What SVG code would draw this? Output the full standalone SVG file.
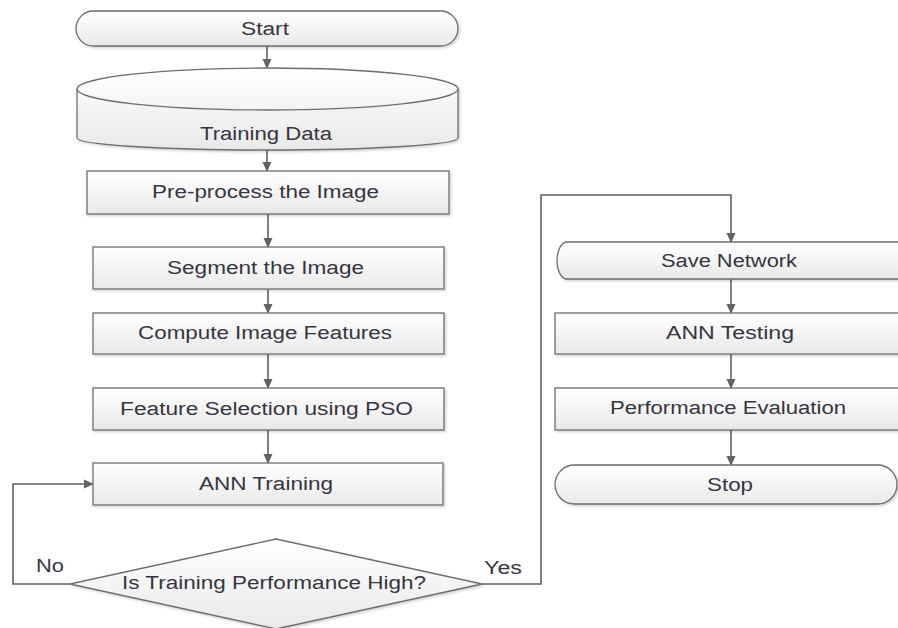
<svg xmlns="http://www.w3.org/2000/svg" width="898" height="628" viewBox="0 0 898 628">
<defs>
<linearGradient id="g" x1="0" y1="0" x2="0" y2="1">
<stop offset="0" stop-color="#ffffff"/>
<stop offset="1" stop-color="#e9e9e9"/>
</linearGradient>
<filter id="sh" x="-5%" y="-10%" width="110%" height="130%">
<feDropShadow dx="1.5" dy="1.5" stdDeviation="1" flood-color="#000" flood-opacity="0.18"/>
</filter>
<marker id="ar" markerWidth="10" markerHeight="10" refX="9" refY="5" orient="auto" markerUnits="userSpaceOnUse">
<path d="M0,0.5 L10,5 L0,9.5 Z" fill="#626262"/>
</marker>
</defs>
<style>
.s{fill:url(#g);stroke:#6e6e6e;stroke-width:1.3;filter:url(#sh)}
.t{font-family:"Liberation Sans",Arial,sans-serif;font-size:18px;fill:#363640;text-anchor:middle}
.c{fill:none;stroke:#626262;stroke-width:1.6}
</style>
<rect width="898" height="628" fill="#ffffff"/>
<g id="connectors">
<line class="c" x1="267" y1="46" x2="267" y2="68" marker-end="url(#ar)"/>
<line class="c" x1="267" y1="150" x2="267" y2="171" marker-end="url(#ar)"/>
<line class="c" x1="268" y1="214" x2="268" y2="247" marker-end="url(#ar)"/>
<line class="c" x1="268" y1="289" x2="268" y2="313" marker-end="url(#ar)"/>
<line class="c" x1="268" y1="354" x2="268" y2="388" marker-end="url(#ar)"/>
<line class="c" x1="268" y1="430" x2="268" y2="463" marker-end="url(#ar)"/>
<polyline class="c" points="70,584 13,584 13,484 93,484" marker-end="url(#ar)"/>
<polyline class="c" points="482,584 541,584 541,195 731,195 731,242" marker-end="url(#ar)"/>
<line class="c" x1="731" y1="279" x2="731" y2="313" marker-end="url(#ar)"/>
<line class="c" x1="731" y1="354" x2="731" y2="388" marker-end="url(#ar)"/>
<line class="c" x1="731" y1="430" x2="731" y2="465" marker-end="url(#ar)"/>
<text class="t" x="50" y="572" textLength="28" lengthAdjust="spacingAndGlyphs">No</text>
<text class="t" x="503" y="574" textLength="38" lengthAdjust="spacingAndGlyphs">Yes</text>
</g>
<g id="start">
<rect class="s" x="76" y="11" width="382" height="35" rx="17.5"/>
<text class="t" x="265" y="35" textLength="48" lengthAdjust="spacingAndGlyphs">Start</text>
</g>
<g id="training-data">
<path class="s" d="M77,89 A190.5,21 0 0 1 458,89 L458,138 A190.5,12 0 0 1 77,138 Z"/>
<path d="M77,89 A190.5,21 0 0 0 458,89" fill="none" stroke="#6e6e6e" stroke-width="1.3"/>
<text class="t" x="266" y="140" textLength="132" lengthAdjust="spacingAndGlyphs">Training Data</text>
</g>
<g id="preprocess">
<rect class="s" x="87" y="171" width="362" height="43"/>
<text class="t" x="265.5" y="198" textLength="227" lengthAdjust="spacingAndGlyphs">Pre-process the Image</text>
</g>
<g id="segment">
<rect class="s" x="93" y="247" width="351" height="42"/>
<text class="t" x="265.5" y="274" textLength="197" lengthAdjust="spacingAndGlyphs">Segment the Image</text>
</g>
<g id="compute">
<rect class="s" x="93" y="313" width="351" height="41"/>
<text class="t" x="265" y="339" textLength="254" lengthAdjust="spacingAndGlyphs">Compute Image Features</text>
</g>
<g id="feature-selection">
<rect class="s" x="93" y="388" width="351" height="42"/>
<text class="t" x="266.5" y="415" textLength="293" lengthAdjust="spacingAndGlyphs">Feature Selection using PSO</text>
</g>
<g id="ann-training">
<rect class="s" x="93" y="463" width="350" height="42"/>
<text class="t" x="266" y="490" textLength="134" lengthAdjust="spacingAndGlyphs">ANN Training</text>
</g>
<g id="decision">
<polygon class="s" points="276,539 482,584 276,629 70,584"/>
<text class="t" x="274" y="589" textLength="304" lengthAdjust="spacingAndGlyphs">Is Training Performance High?</text>
</g>
<g id="save-network">
<path class="s" d="M567,242 L910,242 A10,18.5 0 0 0 910,279 L567,279 A10,18.5 0 0 1 567,242 Z"/>
<text class="t" x="729" y="267" textLength="136" lengthAdjust="spacingAndGlyphs">Save Network</text>
</g>
<g id="ann-testing">
<rect class="s" x="555" y="313" width="352" height="41"/>
<text class="t" x="730" y="339" textLength="128" lengthAdjust="spacingAndGlyphs">ANN Testing</text>
</g>
<g id="performance-evaluation">
<rect class="s" x="555" y="388" width="352" height="42"/>
<text class="t" x="728" y="414" textLength="236" lengthAdjust="spacingAndGlyphs">Performance Evaluation</text>
</g>
<g id="stop">
<rect class="s" x="555" y="465" width="342" height="39" rx="19.5"/>
<text class="t" x="730" y="491" textLength="46" lengthAdjust="spacingAndGlyphs">Stop</text>
</g>
</svg>
